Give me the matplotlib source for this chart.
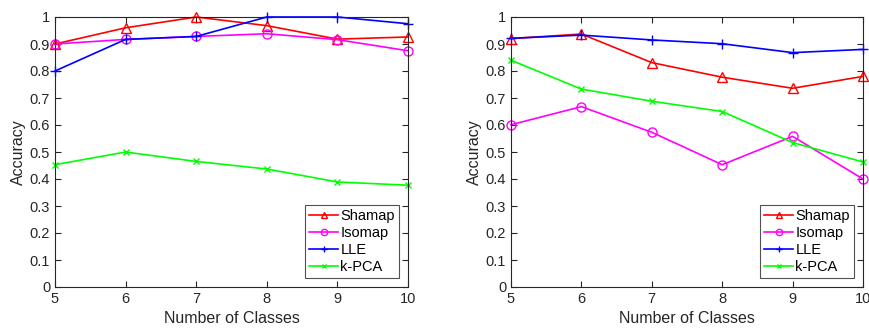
import matplotlib
matplotlib.use("Agg")
import matplotlib.pyplot as plt

plt.rcParams['font.family'] = ['Liberation Sans', 'DejaVu Sans']

classes = [5, 6, 7, 8, 9, 10]
yticks = [0, 0.1, 0.2, 0.3, 0.4, 0.5, 0.6, 0.7, 0.8, 0.9, 1]
ytick_labels = ['0', '0.1', '0.2', '0.3', '0.4', '0.5', '0.6', '0.7', '0.8', '0.9', '1']

left_shamap = [0.90, 0.96, 1.00, 0.968, 0.918, 0.926]
left_isomap = [0.90, 0.917, 0.928, 0.938, 0.916, 0.875]
left_lle = [0.80, 0.917, 0.928, 1.00, 1.00, 0.975]
left_kpca = [0.453, 0.50, 0.465, 0.437, 0.389, 0.377]

right_shamap = [0.92, 0.937, 0.831, 0.777, 0.736, 0.78]
right_isomap = [0.601, 0.668, 0.573, 0.453, 0.558, 0.40]
right_lle = [0.921, 0.933, 0.915, 0.901, 0.868, 0.88]
right_kpca = [0.84, 0.733, 0.688, 0.65, 0.535, 0.463]

names = ['Shamap', 'Isomap', 'LLE', 'k-PCA']
colors = ['#ff0000', '#ff00ff', '#0000ff', '#00ff00']
markers = ['^', 'o', '+', 'x']

fig = plt.figure(figsize=(8.7, 3.33), dpi=100)
W, H = 870, 333
grey = '#262626'

def setup(ax, series):
    for vals, name, c, m in zip(series, names, colors, markers):
        ms = {'^': 6.5, 'o': 6.5, '+': 7, 'x': 4.5}[m]
        ax.plot(classes, vals, color=c, marker=m, markersize=ms, markerfacecolor='none',
                markeredgecolor=c, linewidth=1.2, label=name, clip_on=False)
    ax.set_xlim(5, 10)
    ax.set_ylim(0, 1)
    ax.set_xticks(classes)
    ax.set_yticks(yticks)
    ax.set_yticklabels(ytick_labels)
    ax.tick_params(direction='in', top=True, right=True, labelsize=10.5, colors=grey, length=4)
    for s in ax.spines.values():
        s.set_color(grey)
        s.set_linewidth(0.8)
    ax.set_xlabel('Number of Classes', fontsize=11.5, color=grey, labelpad=4)
    ax.set_ylabel('Accuracy', fontsize=11.5, color=grey, labelpad=3)
    leg = ax.legend(loc='lower right', fontsize=10.5, frameon=True, fancybox=False,
                    edgecolor=grey, borderpad=0.3, labelspacing=0.2, handlelength=2.0,
                    handletextpad=0.15, borderaxespad=0.6, markerscale=0.7)
    leg.get_frame().set_linewidth(0.8)

ax1 = fig.add_axes([55 / W, (H - 287) / H, 353 / W, 270 / H])
setup(ax1, [left_shamap, left_isomap, left_lle, left_kpca])
ax2 = fig.add_axes([511 / W, (H - 287) / H, 352 / W, 270 / H])
setup(ax2, [right_shamap, right_isomap, right_lle, right_kpca])

fig.savefig('out.png', dpi=100)
